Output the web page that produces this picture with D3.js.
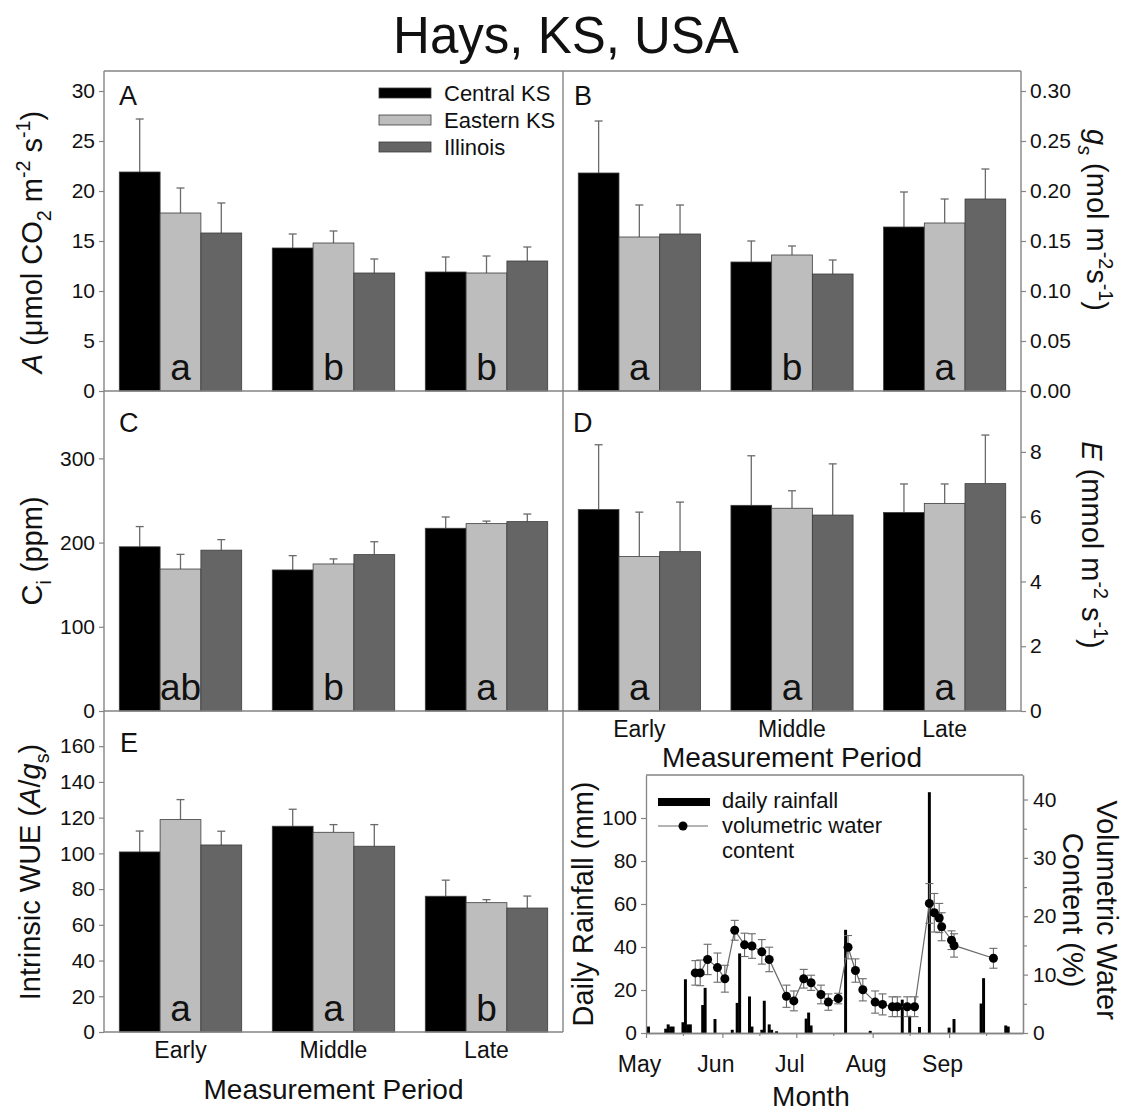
<!DOCTYPE html>
<html><head><meta charset="utf-8">
<script src="https://cdn.jsdelivr.net/npm/d3@7"></script>
<style>
body{margin:0;background:#fff}
svg{display:block}
text{font-family:"Liberation Sans",Arial,Helvetica,sans-serif;fill:#111}
</style>
</head><body>
<svg id="chart" width="1127" height="1114"></svg>
<script>
// ---------------- DATA ----------------
const periods = ["Early", "Middle", "Late"];
const seriesNames = ["Central KS", "Eastern KS", "Illinois"];
const seriesFill = ["#000000", "#bdbdbd", "#656565"];

// rows = series (Central KS, Eastern KS, Illinois), cols = periods
const photoMean = [[21.9, 14.3, 11.9], [17.8, 14.8, 11.8], [15.8, 11.8, 13.0]];
const photoSE   = [[5.3, 1.4, 1.5], [2.5, 1.2, 1.7], [3.0, 1.4, 1.4]];
const photoLetters = ["a", "b", "b"];
const photoTicks = [0, 5, 10, 15, 20, 25, 30];

const gsMean = [[0.218, 0.129, 0.164], [0.154, 0.136, 0.168], [0.157, 0.117, 0.192]];
const gsSE   = [[0.052, 0.021, 0.035], [0.032, 0.009, 0.024], [0.029, 0.014, 0.030]];
const gsLetters = ["a", "b", "a"];
const gsTicks = [0, 0.05, 0.10, 0.15, 0.20, 0.25, 0.30];

const ciMean = [[195, 167.5, 217], [168.6, 174.6, 222.5], [191, 185.7, 224.9]];
const ciSE   = [[24, 17, 13.4], [17.4, 6, 3], [12.5, 15.3, 9]];
const ciLetters = ["ab", "b", "a"];
const ciTicks = [0, 100, 200, 300];

const eMean = [[6.22, 6.35, 6.13], [4.77, 6.26, 6.41], [4.92, 6.05, 7.02]];
const eSE   = [[2.0, 1.53, 0.88], [1.37, 0.54, 0.6], [1.53, 1.58, 1.5]];
const eLetters = ["a", "a", "a"];
const eTicks = [0, 2, 4, 6, 8];

const wueMean = [[100.8, 115.2, 76], [118.9, 111.8, 72.4], [104.7, 104, 69.4]];
const wueSE   = [[11.7, 9.5, 9], [11.2, 4.3, 1.7], [7.7, 12.1, 6.7]];
const wueLetters = ["a", "a", "b"];
const wueTicks = [0, 20, 40, 60, 80, 100, 120, 140, 160];

const rainDates = ["2013-05-02","2013-05-09","2013-05-10","2013-05-11","2013-05-12","2013-05-16","2013-05-17","2013-05-18","2013-05-19","2013-05-24","2013-05-25","2013-05-29","2013-06-05","2013-06-07","2013-06-08","2013-06-12","2013-06-13","2013-06-17","2013-06-18","2013-06-20","2013-06-21","2013-06-23","2013-07-05","2013-07-06","2013-07-07","2013-07-21","2013-07-31","2013-08-13","2013-08-16","2013-08-20","2013-08-24","2013-09-01","2013-09-03","2013-09-14","2013-09-15","2013-09-24","2013-09-25"];
const rainMm = [3,2,4,3,3,5,25,4,4,13,21,6.5,1.5,14,37,17,3,1.5,15,4,1.5,0.8,6.7,9.5,3.5,48,1,15.5,8,2.8,112,2.5,6.5,13.7,25.5,3.5,3];

const vwcDates = ["2013-05-21","2013-05-23","2013-05-26","2013-05-30","2013-06-02","2013-06-06","2013-06-10","2013-06-13","2013-06-17","2013-06-20","2013-06-27","2013-06-30","2013-07-04","2013-07-07","2013-07-11","2013-07-14","2013-07-18","2013-07-22","2013-07-25","2013-07-28","2013-08-02","2013-08-05","2013-08-09","2013-08-11","2013-08-15","2013-08-18","2013-08-24","2013-08-26","2013-08-28","2013-08-29","2013-09-02","2013-09-03","2013-09-19"];
const vwcPct = [10.3,10.3,12.6,11.2,9.3,17.6,15.1,14.9,13.9,12.6,6.3,5.5,9.3,8.6,6.6,5.3,5.9,14.7,10.7,7.4,5.3,4.9,4.5,4.5,4.5,4.5,22.2,20.6,19.7,18.2,15.9,15.0,12.8];
const vwcSE  = [2.1,2.2,2.6,2.5,2.3,1.7,2.0,2.1,2.1,2.1,1.9,1.7,1.6,1.3,1.6,1.4,0.9,2.0,2.0,1.9,1.9,1.8,1.7,1.7,1.7,1.7,3.4,3.3,2.5,2.4,1.6,2.0,1.7];

const monthTicks = ["2013-05-01","2013-06-01","2013-07-01","2013-08-01","2013-09-01"];
const monthLabels = ["May", "Jun", "Jul", "Aug", "Sep"];
const minorMonthTicks = ["2013-05-16","2013-06-16","2013-07-16","2013-08-16","2013-09-16"];
const rainTicks = [0, 20, 40, 60, 80, 100];
const vwcTicks = [0, 10, 20, 30, 40];
const vwcMinorTicks = [5, 15, 25, 35];

// ---------------- DRAW ----------------
const svg = d3.select("#chart");
const FRAME = "#858585";
const parse = d3.timeParse("%Y-%m-%d");
const TICK_FS = 21, TITLE_FS = 28, VTITLE_FS = 29, CAT_FS = 23;

function rich(sel, parts, size) {
  let shift = 0;
  parts.forEach(p => {
    const target = p.sub ? size * 0.3 : p.sup ? -size * 0.42 : 0;
    const ts = sel.append("tspan").text(p.t).attr("dy", target - shift);
    shift = target;
    if (p.sub || p.sup) ts.attr("font-size", size * 0.68);
    if (p.italic) ts.attr("font-style", "italic");
  });
}

function styleAxis(g) {
  g.selectAll("path.domain").attr("stroke", FRAME).attr("stroke-width", 1.3);
  g.selectAll(".tick line").attr("stroke", FRAME).attr("stroke-width", 1.2);
  g.selectAll(".tick text").attr("font-size", TICK_FS).attr("fill", "#111")
    .attr("font-family", '"Liberation Sans",Arial,sans-serif');
}

const L = { xa: 104, xm: 563, xb: 1021, y0: 71, y1: 391, y2: 711, y3: 1032 };

function barPanel(c) {
  const x = d3.scaleBand().domain(periods).range([c.x0, c.x1]).paddingInner(0.2).paddingOuter(0.1);
  const xs = d3.scaleBand().domain(seriesNames).range([0, x.bandwidth()]);
  const y = d3.scaleLinear().domain([0, c.max]).range([c.yb, c.yt]);
  const g = svg.append("g");
  seriesNames.forEach((s, si) => {
    periods.forEach((p, pi) => {
      const v = c.mean[si][pi], e = c.se[si][pi];
      const bx = x(p) + xs(s), bw = xs.bandwidth(), cx = bx + bw / 2;
      g.append("line").attr("x1", cx).attr("x2", cx).attr("y1", y(v)).attr("y2", y(v + e))
        .attr("stroke", "#6a6a6a").attr("stroke-width", 1.3);
      g.append("line").attr("x1", cx - 4).attr("x2", cx + 4).attr("y1", y(v + e)).attr("y2", y(v + e))
        .attr("stroke", "#6a6a6a").attr("stroke-width", 1.3);
      g.append("rect").attr("x", bx).attr("y", y(v)).attr("width", bw).attr("height", y(0) - y(v))
        .attr("fill", seriesFill[si]).attr("stroke", "#3c3c3c").attr("stroke-width", 0.8);
    });
  });
  // significance letters
  periods.forEach((p, pi) => {
    g.append("text").attr("x", x(p) + xs("Eastern KS") + xs.bandwidth() / 2).attr("y", c.yb - 11)
      .attr("text-anchor", "middle").attr("font-size", 37).text(c.letters[pi]);
  });
  // axis
  const ax = (c.side === "left" ? d3.axisLeft(y) : d3.axisRight(y))
    .tickValues(c.ticks).tickSize(5).tickPadding(4).tickSizeOuter(0);
  if (c.fmt) ax.tickFormat(c.fmt);
  const axg = svg.append("g").attr("transform", `translate(${c.side === "left" ? c.x0 : c.x1},0)`).call(ax);
  styleAxis(axg);
  axg.select("path.domain").remove();
  // panel letter
  svg.append("text").attr("x", c.x0 + c.lx).attr("y", c.yt + c.ly).attr("font-size", 27).text(c.label);
  // categories
  if (c.cats) {
    periods.forEach(p => {
      svg.append("text").attr("x", x(p) + x.bandwidth() / 2).attr("y", c.yb + 26)
        .attr("text-anchor", "middle").attr("font-size", CAT_FS).text(p);
    });
  }
  return { x, xs, y };
}

barPanel({ x0: L.xa, x1: L.xm, yt: L.y0, yb: L.y1, max: 32, ticks: photoTicks, side: "left",
  mean: photoMean, se: photoSE, letters: photoLetters, label: "A", lx: 15, ly: 34 });
barPanel({ x0: L.xm, x1: L.xb, yt: L.y0, yb: L.y1, max: 0.32, ticks: gsTicks, side: "right", fmt: d3.format(".2f"),
  mean: gsMean, se: gsSE, letters: gsLetters, label: "B", lx: 11, ly: 34 });
barPanel({ x0: L.xa, x1: L.xm, yt: L.y1, yb: L.y2, max: 380, ticks: ciTicks, side: "left",
  mean: ciMean, se: ciSE, letters: ciLetters, label: "C", lx: 15, ly: 41 });
barPanel({ x0: L.xm, x1: L.xb, yt: L.y1, yb: L.y2, max: 9.88, ticks: eTicks, side: "right",
  mean: eMean, se: eSE, letters: eLetters, label: "D", lx: 10, ly: 41, cats: true });
barPanel({ x0: L.xa, x1: L.xm, yt: L.y2, yb: L.y3, max: 179.7, ticks: wueTicks, side: "left",
  mean: wueMean, se: wueSE, letters: wueLetters, label: "E", lx: 16, ly: 41, cats: true });

// frame lines
const frame = svg.append("g").attr("stroke", FRAME).attr("stroke-width", 1.4).attr("fill", "none");
[[L.xa, L.y0, L.xb, L.y0], [L.xa, L.y0, L.xa, L.y3], [L.xm, L.y0, L.xm, L.y3], [L.xb, L.y0, L.xb, L.y2],
 [L.xa, L.y1, L.xb, L.y1], [L.xa, L.y2, L.xb, L.y2], [L.xa, L.y3, L.xm, L.y3]].forEach(s => {
  frame.append("line").attr("x1", s[0]).attr("y1", s[1]).attr("x2", s[2]).attr("y2", s[3]);
});

// legend (panel A)
seriesNames.forEach((s, i) => {
  const yy = 93 + i * 27;
  svg.append("rect").attr("x", 379).attr("y", yy - 5).attr("width", 52).attr("height", 10)
    .attr("fill", seriesFill[i]).attr("stroke", "#3c3c3c").attr("stroke-width", 0.8);
  svg.append("text").attr("x", 444).attr("y", yy + 8).attr("font-size", 22).text(s);
});

// title
svg.append("text").attr("x", 566).attr("y", 53).attr("text-anchor", "middle").attr("font-size", 51)
  .text("Hays, KS, USA");

// axis titles
function vtitle(x, y, rot, parts, size) {
  const t = svg.append("text").attr("transform", `translate(${x},${y}) rotate(${rot})`)
    .attr("text-anchor", "middle").attr("font-size", size);
  rich(t, parts, size);
  return t;
}
vtitle(42, 242, -90, [{t:"A", italic:true}, {t:" (μmol CO"}, {t:"2", sub:true}, {t:" m"}, {t:"-2", sup:true}, {t:" s"}, {t:"-1", sup:true}, {t:")"}], VTITLE_FS);
vtitle(42, 551, -90, [{t:"C"}, {t:"i", sub:true}, {t:" (ppm)"}], VTITLE_FS);
vtitle(40, 872, -90, [{t:"Intrinsic WUE ("}, {t:"A", italic:true}, {t:"/"}, {t:"g", italic:true}, {t:"s", sub:true}, {t:")"}], VTITLE_FS);
vtitle(1087, 220, 90, [{t:"g", italic:true}, {t:"s", sub:true, italic:true}, {t:" (mol m"}, {t:"-2", sup:true}, {t:"s"}, {t:"-1", sup:true}, {t:")"}], VTITLE_FS);
vtitle(1082, 545, 90, [{t:"E", italic:true}, {t:" (mmol m"}, {t:"-2", sup:true}, {t:" s"}, {t:"-1", sup:true}, {t:")"}], VTITLE_FS);

svg.append("text").attr("x", (L.xm + L.xb) / 2).attr("y", 767).attr("text-anchor", "middle")
  .attr("font-size", TITLE_FS).text("Measurement Period");
svg.append("text").attr("x", (L.xa + L.xm) / 2).attr("y", 1099).attr("text-anchor", "middle")
  .attr("font-size", TITLE_FS).text("Measurement Period");

// ---------------- RAINFALL / VWC PANEL ----------------
const R = { x0: 646, x1: 1023, y0: 775, y1: 1033 };
const xt = d3.scaleTime().domain([parse("2013-05-01"), parse("2013-10-01")]).range([R.x0, R.x1]);
const yr = d3.scaleLinear().domain([0, 120]).range([R.y1, R.y0]);
const yv = d3.scaleLinear().domain([0, 44.2]).range([R.y1, R.y0]);
const dayW = xt(parse("2013-05-02")) - xt(parse("2013-05-01"));

const rg = svg.append("g");
rainDates.forEach((d, i) => {
  const xx = xt(parse(d));
  rg.append("rect").attr("x", xx - dayW * 0.6).attr("y", yr(rainMm[i])).attr("width", dayW * 1.2)
    .attr("height", yr(0) - yr(rainMm[i])).attr("fill", "#000");
});

const vg = svg.append("g");
vwcDates.forEach((d, i) => {
  const xx = xt(parse(d)), lo = yv(vwcPct[i] - vwcSE[i]), hi = yv(vwcPct[i] + vwcSE[i]);
  vg.append("line").attr("x1", xx).attr("x2", xx).attr("y1", lo).attr("y2", hi).attr("stroke", "#6a6a6a").attr("stroke-width", 1.1);
  [lo, hi].forEach(yy => vg.append("line").attr("x1", xx - 4).attr("x2", xx + 4).attr("y1", yy).attr("y2", yy)
    .attr("stroke", "#6a6a6a").attr("stroke-width", 1.1));
});
const line = d3.line().x((d, i) => xt(parse(vwcDates[i]))).y((d, i) => yv(vwcPct[i]));
vg.append("path").datum(vwcPct).attr("d", line).attr("fill", "none").attr("stroke", "#6a6a6a").attr("stroke-width", 1.2);
vwcDates.forEach((d, i) => {
  vg.append("circle").attr("cx", xt(parse(d))).attr("cy", yv(vwcPct[i])).attr("r", 4.5).attr("fill", "#000");
});

// axes
const axL = svg.append("g").attr("transform", `translate(${R.x0},0)`)
  .call(d3.axisLeft(yr).tickValues(rainTicks).tickSize(5).tickPadding(4).tickSizeOuter(0));
styleAxis(axL);
const axR = svg.append("g").attr("transform", `translate(${R.x1},0)`)
  .call(d3.axisRight(yv).tickValues(vwcTicks).tickSize(5).tickPadding(5).tickSizeOuter(0));
styleAxis(axR);
const axRm = svg.append("g").attr("transform", `translate(${R.x1},0)`)
  .call(d3.axisRight(yv).tickValues(vwcMinorTicks).tickSize(4).tickFormat("").tickSizeOuter(0));
styleAxis(axRm);
const axB = svg.append("g").attr("transform", `translate(0,${R.y1})`)
  .call(d3.axisBottom(xt).tickValues(monthTicks.map(parse)).tickSize(5).tickPadding(18).tickSizeOuter(0)
    .tickFormat((d, i) => monthLabels[i]));
styleAxis(axB);
axB.selectAll(".tick text").attr("font-size", CAT_FS).attr("dx", -7);
const axBm = svg.append("g").attr("transform", `translate(0,${R.y1})`)
  .call(d3.axisBottom(xt).tickValues(minorMonthTicks.map(parse)).tickSize(3).tickFormat("").tickSizeOuter(0));
styleAxis(axBm);
svg.append("line").attr("x1", R.x0).attr("x2", R.x1).attr("y1", R.y0).attr("y2", R.y0)
  .attr("stroke", FRAME).attr("stroke-width", 1.3);

// legend
svg.append("rect").attr("x", 658).attr("y", 798).attr("width", 52).attr("height", 8).attr("fill", "#000");
svg.append("text").attr("x", 722).attr("y", 808).attr("font-size", 22).text("daily rainfall");
svg.append("line").attr("x1", 658).attr("x2", 708).attr("y1", 826).attr("y2", 826).attr("stroke", "#6a6a6a").attr("stroke-width", 1.2);
svg.append("circle").attr("cx", 683).attr("cy", 826).attr("r", 4.5).attr("fill", "#000");
svg.append("text").attr("x", 722).attr("y", 833).attr("font-size", 22).text("volumetric water");
svg.append("text").attr("x", 722).attr("y", 858).attr("font-size", 22).text("content");

// titles
vtitle(593, 904, -90, [{t:"Daily Rainfall (mm)"}], VTITLE_FS);
const vt = svg.append("text").attr("transform", "translate(1097,910) rotate(90)")
  .attr("text-anchor", "middle").attr("font-size", VTITLE_FS);
vt.append("tspan").attr("x", 0).attr("y", 0).text("Volumetric Water");
vt.append("tspan").attr("x", 0).attr("y", 34).text("Content (%)");
svg.append("text").attr("x", 811).attr("y", 1106).attr("text-anchor", "middle").attr("font-size", TITLE_FS).text("Month");
</script>
</body></html>
